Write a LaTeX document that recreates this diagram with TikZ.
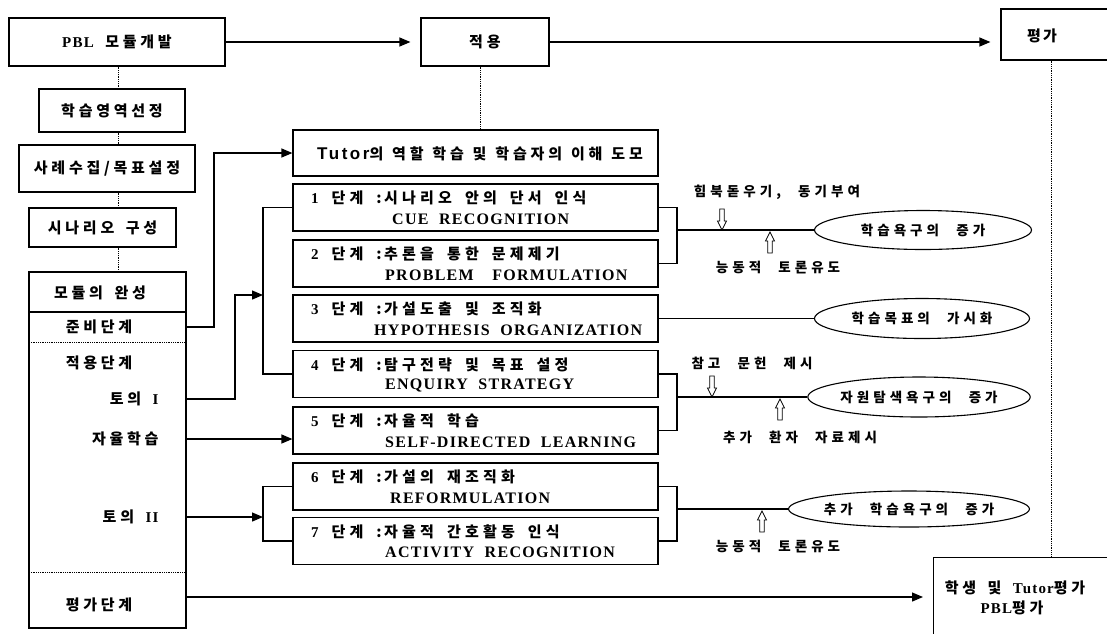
\documentclass[tikz,border=0pt]{standalone}
\usepackage{fontspec}
\usetikzlibrary{arrows.meta,shapes.geometric,calc}
\newfontfamily\kra[LetterSpace=28,WordSpace=1.7]{Noto Sans CJK KR}
\newfontfamily\krb[LetterSpace=26,WordSpace=1.2]{Noto Sans CJK KR}
\newfontfamily\krc[LetterSpace=25,WordSpace=1.6]{Noto Sans CJK KR}
\newfontfamily\krd[LetterSpace=30,WordSpace=2.4]{Noto Sans CJK KR}
\newfontfamily\en[LetterSpace=8,WordSpace=2]{Liberation Serif}
\newfontfamily\ens[LetterSpace=15]{Liberation Sans}
\newcommand{\myen}[1]{{\en\bfseries #1}}
\tikzset{
  box/.style={draw, line width=1.2pt, inner sep=0pt, rectangle},
  conn/.style={line width=1.2pt},
  arr/.style={-{Triangle[length=11pt,width=9pt]}},
  dotl/.style={densely dotted, line width=0.8pt},
  oval/.style={ellipse, draw, line width=1.1pt, inner sep=0pt},
  ta/.style={font=\kra\bfseries\fontsize{15}{17}\selectfont, inner sep=0pt},
  tb/.style={font=\krb\bfseries\fontsize{15}{17}\selectfont, inner sep=0pt},
  tc/.style={font=\krc\bfseries\fontsize{15}{17}\selectfont},
  td/.style={font=\krd\bfseries\fontsize{13.5}{15}\selectfont},
  te/.style={font=\en\bfseries\fontsize{16}{18}\selectfont, inner sep=0pt},
  hdown/.pic={\draw[line width=0.8pt] (-2.2,-21) -- (-2.2,-9) -- (-4.5,-9) -- (0,0) -- (4.5,-9) -- (2.2,-9) -- (2.2,-21) -- cycle;},
  hup/.pic={\draw[line width=0.8pt] (-2.2,21) -- (-2.2,9) -- (-4.5,9) -- (0,0) -- (4.5,9) -- (2.2,9) -- (2.2,21) -- cycle;},
}
\begin{document}
\begin{tikzpicture}[x=1pt,y=-1pt]
\useasboundingbox (0,0) rectangle (1107,633);
\fill[white] (0,0) rectangle (1107,633);

% ---- top row
\node[box, tc, minimum width=216pt, minimum height=48pt] (pbl) at (117,42) {\myen{PBL} 모듈개발};
\node[box, tc, minimum width=128pt, minimum height=48pt] (apply) at (485,42) {적\hspace{4pt}용};
\node[box, minimum width=130pt, minimum height=51pt] (eval) at (1066,34.5) {};
\node[tc] (evaltxt) at (1042,36) {평\hspace{2pt}가};
\draw[conn, arr, shorten >=10pt] (pbl) -- (apply);
\draw[conn, arr, shorten >=10pt] (apply.east) -- (apply.east -| eval.west);

% ---- left column
\coordinate (vx) at (118,0);
\node[box, tc, minimum width=146pt, minimum height=43pt] (hy) at (112,110.5) {학습영역선정};
\node[box, tc, minimum width=176pt, minimum height=47pt] (sr) at (107,168.5) {사례수집/목표설정};
\node[box, tc, minimum width=147pt, minimum height=39pt] (sn) at (102.5,227.5) {시나리오 구성};
\node[box, minimum width=157pt, minimum height=356pt] (mod) at (107.5,450) {};
\draw[dotl] (pbl.south -| vx) -- (hy.north -| vx);
\draw[dotl] (hy.south -| vx) -- (sr.north -| vx);
\draw[dotl] (sr.south -| vx) -- (sn.north -| vx);
\draw[dotl] (sn.south -| vx) -- (mod.north -| vx);

% module box inner structure
\draw[line width=1.2pt] (29,312) -- (186,312);
\draw[dotl] (29,342) -- (186,342);
\draw[dotl] (29,572) -- (186,572);
\node[tc] (mt) at (100,293) {모듈의 완성};
\node[tc] (junbi) at (99,327) {준비단계};
\node[tc] (jeok) at (99,363) {적용단계};
\node[tc, anchor=east] (toui1) at (162,399) {토의 \myen{I}};
\node[tc, anchor=east] (jayul) at (162,439) {자율학습};
\node[tc, anchor=east] (toui2) at (162,517) {토의 \myen{II}};
\node[tc] (pgdg) at (99,605) {평가단계};

% ---- Tutor box and stages
\node[box, minimum width=365pt, minimum height=46pt] (tutor) at (475.5,153) {};
\node[tb] (tutortxt) at (480,154) {{\ens\bfseries\fontsize{17}{19}\selectfont Tutor}의 역할 학습 및 학습자의 이해 도모};
\coordinate (vx2) at (480,0);
\draw[dotl] (apply.south -| vx2) -- (tutor.north -| vx2);

\node[box, minimum width=365pt, minimum height=47pt] (s1) at (475.5,207.5) {};
\node[box, minimum width=365pt, minimum height=47pt] (s2) at (475.5,263.5) {};
\node[box, minimum width=365pt, minimum height=47pt] (s3) at (475.5,318.5) {};
\node[box, minimum width=365pt, minimum height=47pt] (s4) at (475.5,374) {};
\node[box, minimum width=365pt, minimum height=47pt] (s5) at (475.5,430.5) {};
\node[box, minimum width=365pt, minimum height=47pt] (s6) at (475.5,486.5) {};
\node[box, minimum width=365pt, minimum height=47pt] (s7) at (475.5,541) {};

\node[ta, anchor=west] (s1a) at (311,198) {\myen{1} 단계 :\,시나리오 안의 단서 인식};
\node[te, anchor=west] (s1b) at (392,219) {CUE RECOGNITION};
\node[ta, anchor=west] (s2a) at (311,254) {\myen{2} 단계 :\,추론을 통한 문제제기};
\node[te, anchor=west] (s2b) at (385,275) {PROBLEM\hspace{8pt} FORMULATION};
\node[ta, anchor=west] (s3a) at (311,309) {\myen{3} 단계 :\,가설도출 및 조직화};
\node[te, anchor=west] (s3b) at (374,330) {HYPOTHESIS ORGANIZATION};
\node[ta, anchor=west] (s4a) at (311,364.5) {\myen{4} 단계 :\,탐구전략 및 목표 설정};
\node[te, anchor=west] (s4b) at (385,385.5) {ENQUIRY STRATEGY};
\node[ta, anchor=west] (s5a) at (311,421) {\myen{5} 단계 :\,자율적 학습};
\node[te, anchor=west] (s5b) at (385,442) {SELF-DIRECTED LEARNING};
\node[ta, anchor=west] (s6a) at (311,477) {\myen{6} 단계 :\,가설의 재조직화};
\node[te, anchor=west] (s6b) at (390,498) {REFORMULATION};
\node[ta, anchor=west] (s7a) at (311,531.5) {\myen{7} 단계 :\,자율적 간호활동 인식};
\node[te, anchor=west] (s7b) at (385,552.5) {ACTIVITY RECOGNITION};

% ---- left connectors
\coordinate (k1) at (214,153);
\coordinate (b1) at (263,295);
\coordinate (k2) at (235,295);
\coordinate (b2) at (263,518);
\draw[conn, arr] (mod.east |- junbi) -| (k1) -- (tutor.west);
\draw[conn, arr] (mod.east |- toui1) -| (k2) -- (b1);
\draw[conn] (s1.west) -- (s1.west -| b1) -- (s4.west -| b1) -- (s4.west);
\draw[conn, arr] (mod.east |- jayul) -- (s5.west |- jayul);
\draw[conn, arr] (mod.east |- toui2) -- (b2 |- toui2);
\draw[conn] (s6.west) -- (s6.west -| b2) -- (s7.west -| b2) -- (s7.west);

% ---- outcomes
\node[oval, td, minimum width=217pt, minimum height=39pt] (e1) at (923,230) {학습욕구의 증가};
\node[oval, td, minimum width=215pt, minimum height=40pt] (e2) at (922,318.5) {학습목표의 가시화};
\node[oval, td, minimum width=208pt, minimum height=40pt] (e3) at (919,397) {자원탐색욕구의 증가};
\node[oval, td, minimum width=228pt, minimum height=36pt] (e4) at (909,509) {추가 학습욕구의 증가};

\coordinate (r1) at (677,230);
\coordinate (r2) at (677,397);
\coordinate (r3) at (677,509);
\draw[conn] (s1.east) -- (s1.east -| r1) -- (s2.east -| r1) -- (s2.east);
\draw[conn] (r1) -- (e1.west);
\draw[conn] (s3.east) -- (e2.west);
\draw[conn] (s4.east) -- (s4.east -| r2) -- (s5.east -| r2) -- (s5.east);
\draw[conn] (r2) -- (e3.west);
\draw[conn] (s6.east) -- (s6.east -| r3) -- (s7.east -| r3) -- (s7.east);
\draw[conn] (r3) -- (e4.west);

% hollow arrows and labels
\pic at (722,230) {hdown};
\pic at (770,232) {hup};
\pic at (712,397) {hdown};
\pic at (780,399) {hup};
\pic at (762,511) {hup};
\node[td] (l1) at (777,192) {힘북돋우기, 동기부여};
\node[td] (l2) at (778,268) {능동적 토론유도};
\node[td] (l3) at (752,363) {참고 문헌 제시};
\node[td] (l4) at (800,437) {추가 환자 자료제시};
\node[td] (l5) at (778,547) {능동적 토론유도};

% ---- final evaluation
\node[box, minimum width=190pt, minimum height=90pt, anchor=north west] (evalb) at (933,557) {};
\node[tc] (evb1) at (1015,588) {학생 및 \myen{Tutor}평가};
\node[tc] (evb2) at (1012,608) {\myen{PBL}평가};
\coordinate (vx3) at (1051,0);
\draw[dotl] (eval.south -| vx3) -- (evalb.north -| vx3);
\coordinate (m5) at (186,597);
\draw[conn, arr, shorten >=10pt] (m5) -- (evalb.west |- m5);
\end{tikzpicture}
\end{document}
